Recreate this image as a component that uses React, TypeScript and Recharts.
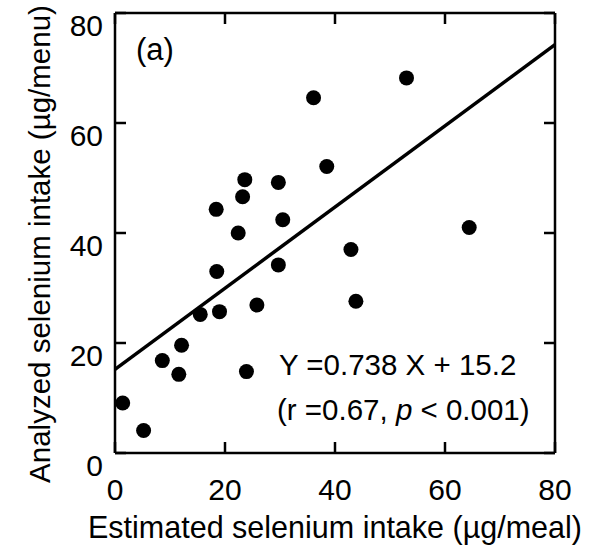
import React from 'react'
import { ScatterChart, Scatter, XAxis, YAxis, Label } from 'recharts'

// values
const estimated = [1.4, 5.2, 8.6, 11.6, 12.1, 15.5, 19.0, 18.5, 18.4, 23.2, 23.6, 22.4, 23.9, 25.8, 29.7, 30.5, 29.7, 36.1, 38.5, 42.9, 43.8, 53.0, 64.4]
const analyzed = [9.1, 4.1, 16.8, 14.3, 19.6, 25.2, 25.7, 33.0, 44.3, 46.6, 49.7, 40.0, 14.8, 26.9, 49.2, 42.4, 34.2, 64.6, 52.1, 37.0, 27.6, 68.2, 41.0]
const axisTicks = [0, 20, 40, 60, 80]
const fitX = [0, 80]
const slope = 0.738
const intercept = 15.2

const points = estimated.map((x, i) => ({ x, y: analyzed[i] }))
const fitLine = fitX.map(x => ({ x, y: slope * x + intercept }))

const font = '"Liberation Sans", Arial, sans-serif'
const ink = '#000'
const tickLen = 11

const BottomTick = ({ x, y, payload }: any) => (
  <g>
    <line x1={x} x2={x} y1={y} y2={y - tickLen} stroke={ink} strokeWidth={2.5} />
    <text x={x} y={y + 36} dy="0.35em" textAnchor="middle" fontSize={30} fontFamily={font} fill={ink}>
      {payload.value}
    </text>
  </g>
)

const LeftTick = ({ x, y, payload }: any) => (
  <g>
    <line x1={x} x2={x + tickLen} y1={y} y2={y} stroke={ink} strokeWidth={2.5} />
    <text x={x - 12} y={y + 12} dy="0.35em" textAnchor="end" fontSize={30} fontFamily={font} fill={ink}>
      {payload.value}
    </text>
  </g>
)

const TopTick = ({ x, y }: any) => (
  <line x1={x} x2={x} y1={y} y2={y + tickLen} stroke={ink} strokeWidth={2.5} />
)

const RightTick = ({ x, y }: any) => (
  <line x1={x} x2={x - tickLen} y1={y} y2={y} stroke={ink} strokeWidth={2.5} />
)

const Dot = (props: any) => <circle cx={props.cx} cy={props.cy} r={7.5} fill={ink} />
const NoDot = (props: any) => <circle cx={props.cx} cy={props.cy} r={0} fill="none" />

const axisLine = { stroke: ink, strokeWidth: 2.5 }

export default function App() {
  return (
    <div style={{ position: 'absolute', left: 0, top: 0, width: 598, height: 550, background: '#fff' }}>
      <ScatterChart width={598} height={550} margin={{ top: 0, right: 0, bottom: 0, left: 0 }}>
        <XAxis
          xAxisId="bottom" dataKey="x" type="number" domain={[0, 80]} ticks={axisTicks} interval={0}
          height={97} tickSize={0} tickMargin={0} tickLine={false} axisLine={axisLine} tick={<BottomTick />}
        >
          <Label
            content={(p: any) => (
              <text x={p.viewBox.x + p.viewBox.width / 2} y={538} textAnchor="middle" fontSize={30.5} fontFamily={font} fill={ink}>
                Estimated selenium intake (µg/meal)
              </text>
            )}
          />
        </XAxis>
        <XAxis
          xAxisId="top" orientation="top" dataKey="x" type="number" domain={[0, 80]} ticks={axisTicks} interval={0}
          height={13} tickSize={0} tickMargin={0} tickLine={false} axisLine={axisLine} tick={<TopTick />}
        />
        <YAxis
          yAxisId="left" dataKey="y" type="number" domain={[0, 80]} ticks={axisTicks} interval={0}
          width={115} tickSize={0} tickMargin={0} tickLine={false} axisLine={axisLine} tick={<LeftTick />}
        >
          <Label
            content={(p: any) => {
              const cx = 40
              const cy = p.viewBox.y + p.viewBox.height / 2 + 11
              return (
                <text x={cx} y={cy} dy="0.35em" transform={`rotate(-90 ${cx} ${cy})`} textAnchor="middle" fontSize={29.5} fontFamily={font} fill={ink}>
                  Analyzed selenium intake (µg/menu)
                </text>
              )
            }}
          />
        </YAxis>
        <YAxis
          yAxisId="right" orientation="right" dataKey="y" type="number" domain={[0, 80]} ticks={axisTicks} interval={0}
          width={43} tickSize={0} tickMargin={0} tickLine={false} axisLine={axisLine} tick={<RightTick />}
        />
        <Scatter
          data={fitLine} xAxisId="top" yAxisId="right" line={{ stroke: ink, strokeWidth: 3.5 }}
          shape={NoDot} isAnimationActive={false}
        />
        <Scatter data={points} xAxisId="bottom" yAxisId="left" shape={Dot} isAnimationActive={false} />
      </ScatterChart>
      <svg width={598} height={550} style={{ position: 'absolute', left: 0, top: 0, pointerEvents: 'none' }}>
        <text x={136} y={60} fontSize={31} fontFamily={font} fill={ink}>(a)</text>
        <text x={279} y={375} fontSize={29.5} fontFamily={font} fill={ink}>Y =0.738 X + 15.2</text>
        <text x={277} y={420} fontSize={29.5} fontFamily={font} fill={ink}>
          (r =0.67, <tspan fontStyle="italic">p</tspan> &lt; 0.001)
        </text>
      </svg>
    </div>
  )
}
